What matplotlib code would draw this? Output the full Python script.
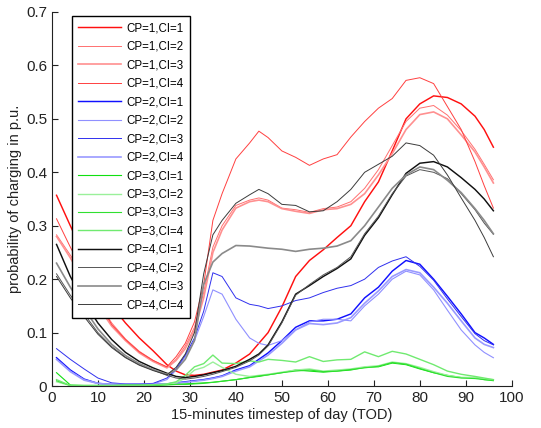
import matplotlib
matplotlib.use("Agg")
import matplotlib.pyplot as plt

plt.rcParams['font.family'] = ['Liberation Sans', 'DejaVu Sans']

# time of day steps (sampled)
tod = [1, 4, 7, 10, 13, 16, 19, 22, 25, 27, 29, 31, 33, 35, 37, 40, 43, 45, 47,
       50, 53, 56, 59, 62, 65, 68, 71, 74, 77, 80, 83, 86, 89, 92, 94, 96]

# CP=1 (red)
cp1_ci1 = [.357, .30, .245, .195, .15, .118, .09, .066, .04, .028, .021, .02, .022, .026, .03, .043, .06, .08, .10,
           .148, .205, .235, .255, .278, .30, .345, .382, .44, .50, .528, .543, .54, .528, .505, .48, .447]
cp1_ci2 = [.283, .245, .205, .158, .118, .088, .065, .048, .035, .05, .075, .11, .175, .26, .30, .338, .348, .352, .348,
           .333, .33, .325, .332, .335, .345, .37, .405, .45, .495, .52, .525, .507, .478, .443, .415, .386]
cp1_ci3 = [.28, .24, .195, .15, .112, .085, .062, .046, .034, .048, .07, .105, .165, .25, .292, .333, .345, .348, .345,
           .332, .327, .323, .33, .332, .34, .36, .395, .435, .48, .508, .513, .50, .47, .438, .41, .38]
cp1_ci4 = [.313, .26, .21, .16, .115, .087, .064, .048, .036, .055, .08, .12, .19, .31, .36, .425, .455, .477, .465,
           .44, .428, .413, .425, .433, .466, .495, .52, .538, .572, .577, .566, .523, .48, .42, .375, .333]

# CP=2 (blue)
cp2_ci1 = [.053, .03, .013, .005, .003, .003, .003, .003, .004, .006, .008, .01, .012, .015, .019, .03, .038, .05, .062,
           .085, .11, .122, .122, .125, .135, .165, .185, .215, .235, .228, .20, .168, .135, .10, .09, .078]
cp2_ci2 = [.05, .028, .012, .005, .003, .003, .003, .004, .012, .03, .055, .085, .13, .18, .172, .125, .09, .08, .076,
           .085, .105, .12, .125, .125, .122, .15, .172, .20, .215, .208, .18, .142, .105, .077, .063, .053]
cp2_ci3 = [.07, .05, .032, .015, .006, .004, .004, .005, .015, .032, .058, .09, .14, .212, .205, .165, .153, .15, .145,
           .15, .16, .165, .175, .183, .188, .20, .222, .234, .242, .224, .198, .163, .13, .098, .085, .077]
cp2_ci4 = [.05, .027, .011, .005, .003, .003, .003, .003, .004, .005, .007, .009, .011, .014, .018, .028, .036, .047, .058,
           .08, .105, .117, .115, .118, .128, .155, .178, .205, .218, .212, .185, .155, .122, .09, .078, .072]

# CP=3 (green)
cp3_ci1 = [.025, .002, .001, .001, .001, .002, .002, .002, .003, .003, .004, .005, .006, .007, .009, .012, .016, .018, .021,
           .025, .03, .028, .026, .028, .03, .035, .036, .043, .04, .032, .025, .02, .016, .016, .012, .011]
cp3_ci2 = [.008, .001, .001, .001, .001, .001, .001, .002, .003, .006, .015, .03, .035, .045, .035, .022, .018, .02, .022,
           .026, .03, .032, .028, .03, .032, .036, .038, .045, .042, .035, .027, .02, .016, .016, .013, .012]
cp3_ci3 = [.01, .001, .001, .001, .001, .001, .001, .001, .002, .003, .003, .004, .005, .007, .009, .012, .016, .019, .021,
           .025, .028, .03, .027, .028, .031, .034, .037, .044, .041, .033, .025, .018, .015, .014, .012, .01]
cp3_ci4 = [.012, .001, .001, .001, .001, .001, .001, .002, .004, .008, .02, .036, .042, .058, .043, .042, .047, .045, .05,
           .048, .045, .055, .046, .049, .05, .064, .055, .065, .06, .05, .04, .028, .022, .018, .015, .012]

# CP=4 (black / grey)
cp4_ci1 = [.265, .205, .158, .118, .087, .063, .046, .034, .024, .018, .016, .018, .021, .025, .029, .037, .05, .06, .077,
           .12, .172, .188, .205, .22, .238, .282, .315, .358, .398, .417, .42, .41, .39, .368, .35, .328]
cp4_ci2 = [.21, .17, .135, .10, .074, .054, .04, .03, .02, .015, .013, .015, .018, .022, .027, .035, .047, .058, .075,
           .118, .17, .19, .208, .222, .242, .285, .318, .36, .393, .405, .40, .388, .36, .33, .305, .284]
cp4_ci3 = [.23, .185, .145, .107, .078, .057, .042, .031, .022, .03, .05, .085, .19, .232, .248, .263, .262, .26, .258,
           .256, .252, .256, .258, .262, .272, .30, .335, .37, .395, .41, .405, .385, .362, .332, .31, .285]
cp4_ci4 = [.205, .165, .13, .097, .072, .053, .039, .029, .021, .035, .06, .10, .21, .283, .31, .342, .358, .368, .36,
           .34, .338, .326, .328, .345, .368, .40, .415, .43, .455, .45, .432, .395, .352, .31, .278, .242]

labels = ['CP=1,CI=1', 'CP=1,CI=2', 'CP=1,CI=3', 'CP=1,CI=4',
          'CP=2,CI=1', 'CP=2,CI=2', 'CP=2,CI=3', 'CP=2,CI=4',
          'CP=3,CI=1', 'CP=3,CI=2', 'CP=3,CI=3', 'CP=3,CI=4',
          'CP=4,CI=1', 'CP=4,CI=2', 'CP=4,CI=3', 'CP=4,CI=4']
series = [cp1_ci1, cp1_ci2, cp1_ci3, cp1_ci4,
          cp2_ci1, cp2_ci2, cp2_ci3, cp2_ci4,
          cp3_ci1, cp3_ci2, cp3_ci3, cp3_ci4,
          cp4_ci1, cp4_ci2, cp4_ci3, cp4_ci4]
colors = ['#ff1010', '#ff7070', '#ff9090', '#ff4040',
          '#1010ff', '#9090ff', '#3030ee', '#9a9aff',
          '#10e010', '#9af09a', '#30e030', '#70ea70',
          '#101010', '#555555', '#8a8a8a', '#3c3c3c']
widths = [1.05, 0.7, 1.2, 0.7,
          1.05, 0.8, 0.7, 1.2,
          0.8, 1.0, 0.8, 1.0,
          1.05, 0.7, 1.2, 0.7]

fig = plt.figure(figsize=(5.41, 4.28), dpi=100)
ax = fig.add_axes([0.096, 0.098, 0.85, 0.874])

for y, lab, c, w in zip(series, labels, colors, widths):
    ax.plot(tod, y, color=c, lw=w, label=lab)

ax.set_xlim(0, 100)
ax.set_ylim(0, 0.7)
ax.set_xticks(range(0, 101, 10))
ax.set_yticks([0, 0.1, 0.2, 0.3, 0.4, 0.5, 0.6, 0.7])
ax.set_yticklabels(['0', '0.1', '0.2', '0.3', '0.4', '0.5', '0.6', '0.7'])
ax.spines['top'].set_visible(False)
ax.spines['right'].set_visible(False)
for s in ['left', 'bottom']:
    ax.spines[s].set_color('#222222')
    ax.spines[s].set_linewidth(0.8)
ax.tick_params(direction='in', length=4, width=0.8, labelsize=11, colors='#222222')
ax.set_xlabel('15-minutes timestep of day (TOD)', fontsize=10.5, color='#222222', labelpad=2)
ax.set_ylabel('probability of charging in p.u.', fontsize=10.5, color='#222222', labelpad=3)

leg = ax.legend(loc='upper left', bbox_to_anchor=(0.0435, 0.989), borderaxespad=0,
                fontsize=8.3, handlelength=3.7, labelspacing=0.56, fancybox=False,
                framealpha=1, edgecolor='black', borderpad=0.55, handletextpad=0.5)
leg.get_frame().set_linewidth(1.0)

fig.savefig('out.png', dpi=100)
